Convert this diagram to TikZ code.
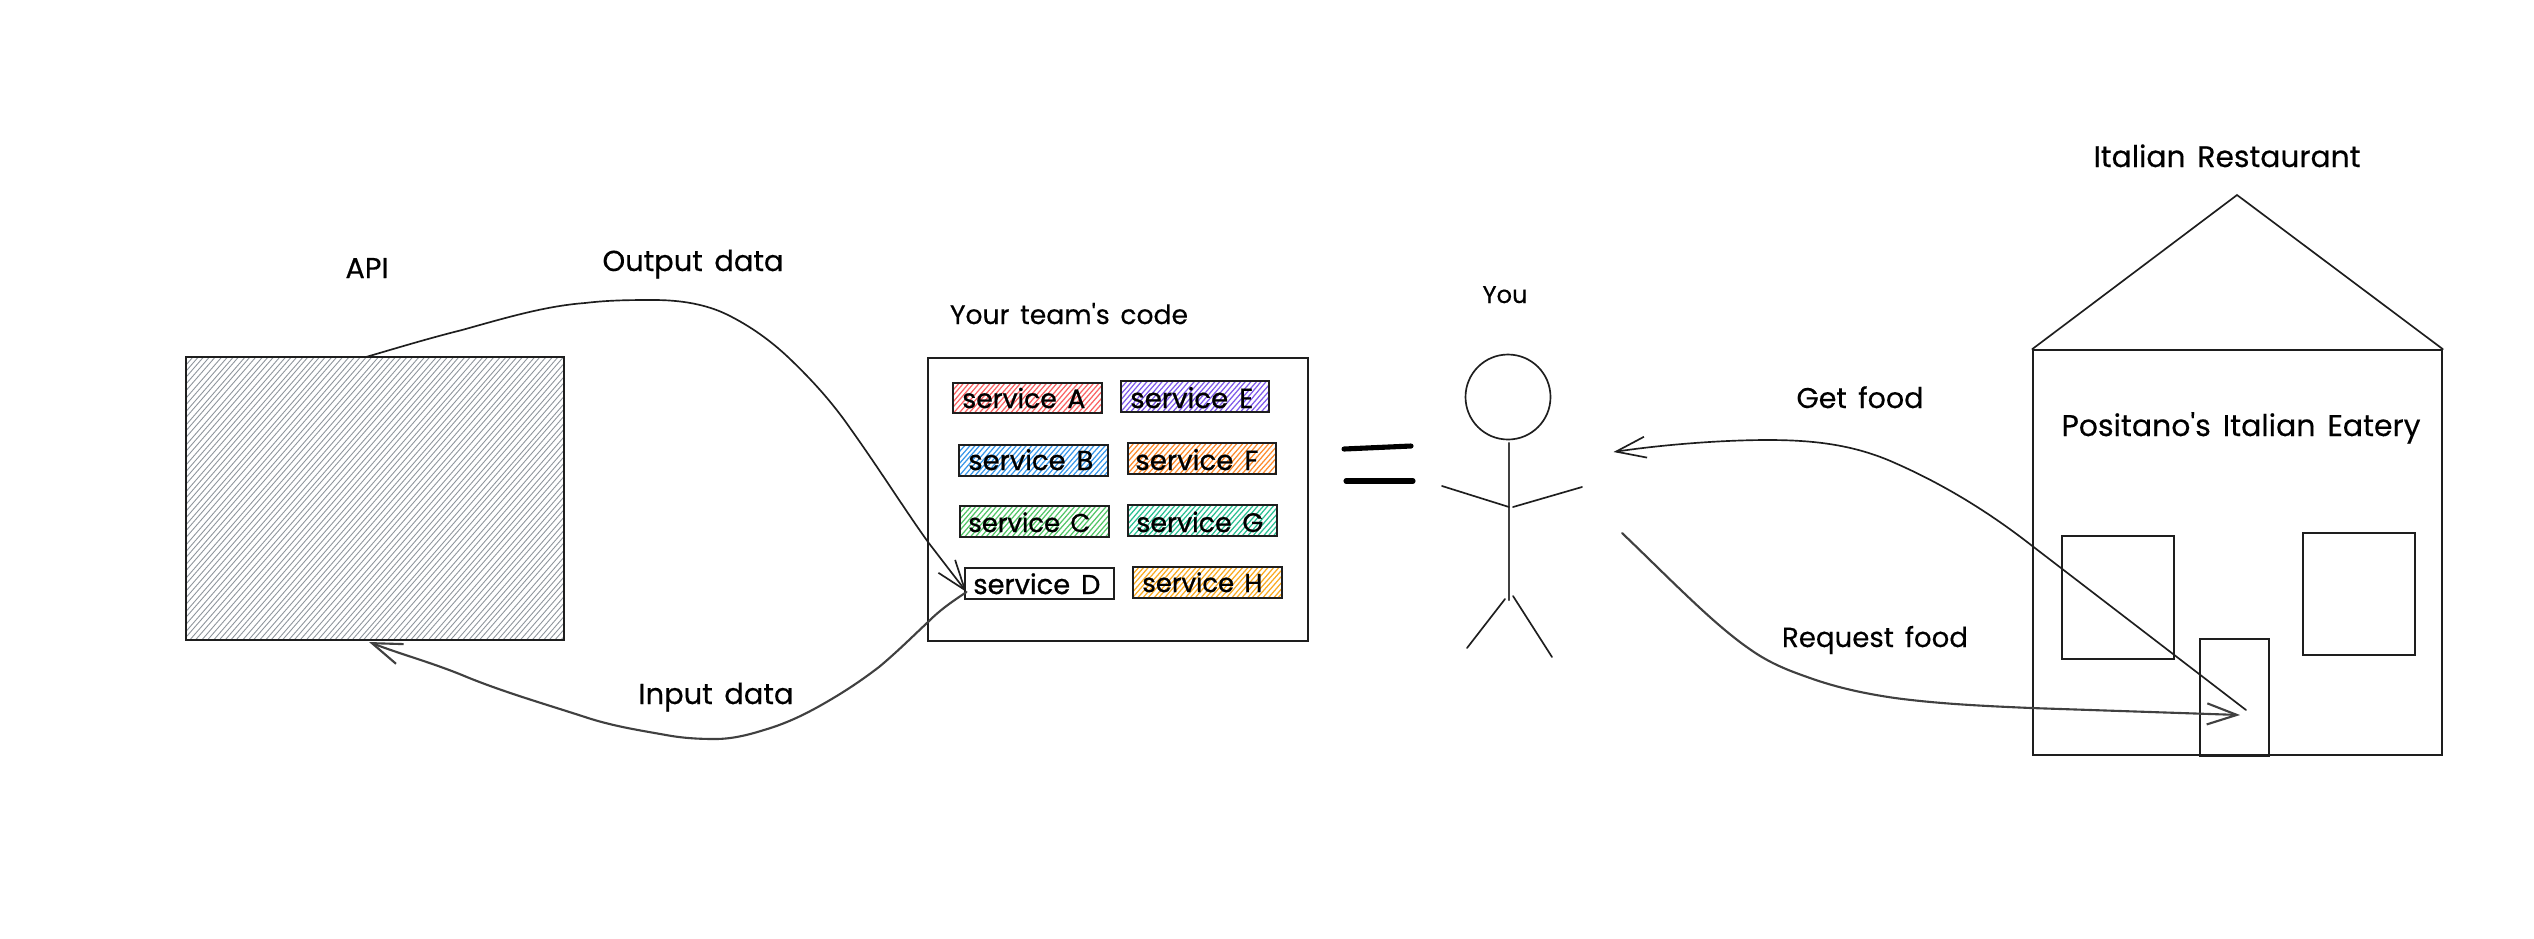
\documentclass[tikz,border=0pt]{standalone}
\usepackage{graphicx}
\usepackage{fontspec}
\defaultfontfeatures[\rmfamily]{}
\setmainfont[WordSpace=1.5,FakeBold=0.35]{Poppins}
\newfontfamily\svcfont[WordSpace=1.5,FakeBold=0.9,Ligatures=Common]{Poppins}
\usetikzlibrary{arrows.meta,fit,calc}
\definecolor{ink}{HTML}{1E1E1E}
\definecolor{hgray}{HTML}{8E959C}
\definecolor{hred}{HTML}{FA5252}
\definecolor{hviolet}{HTML}{7048E8}
\definecolor{hblue}{HTML}{228BE6}
\definecolor{horange}{HTML}{FD7E14}
\definecolor{hgreen}{HTML}{40C057}
\definecolor{hteal}{HTML}{12B886}
\definecolor{hyellow}{HTML}{FAA00A}
\newlength\pxu
\setlength\pxu{0.02cm}
\newcommand\fitw[2]{\resizebox{#1\pxu}{!}{\fontsize{14}{16}\selectfont #2}}
\tikzset{
  sk/.style={draw=ink,line width=0.95pt},
  skbox/.style={sk,inner sep=0pt,rectangle},
  lbl/.style={inner sep=0pt,anchor=base,text=black},
  lblw/.style={inner sep=0pt,anchor=base west,text=black},
  conn/.style={draw=ink,line width=0.95pt,line cap=round},
  connhv/.style={draw=ink!85,line width=1.2pt,line cap=round},
  barb/.style={-{Straight Barb[length=17pt,width=12pt]}},
  barbs/.style={{Straight Barb[length=17pt,width=12pt]}-},
}
% #1 x1, #2 y1, #3 x2, #4 y2, #5 colour, #6 horizontal spacing, #7 line width
\newcommand\hatchbox[7]{%
  \begin{scope}
    \clip (#1,#2) rectangle (#3,#4);
    \pgfmathsetmacro\hdx{(#4-#2)/1.15}
    \pgfmathtruncatemacro\hnn{(#3-#1+\hdx)/#6+1}
    \foreach \k in {0,...,\hnn}{
      \draw[#5,line width=#7]
        ({#1-\hdx+\k*#6+rnd*1.2},#4) -- ({#1+\k*#6+rnd*1.2},#2);
    }
  \end{scope}}
% #1 name, #2 x1, #3 y1, #4 x2, #5 y2, #6 colour, #7 text x, #8 text width, #9 baseline
\newcommand\svcbox[9]{%
  \hatchbox{#2}{#3}{#4}{#5}{#6!90}{5.2}{0.7pt}%
  \node[skbox,fit={(#2,#3) (#4,#5)}] (#1) {};%
  \node[lblw] (#1t) at (#7,#9) {\fitw{#8}{\svcfont service \svcletter}};}
\newcommand\svcletter{}
\begin{document}
\begin{tikzpicture}[x=0.02cm,y=-0.02cm]
\pgfmathsetseed{7}
\useasboundingbox (0,0) rectangle (2534,938);
\fill[white] (0,0) rectangle (2534,938);

% API box
\hatchbox{186}{357}{564}{640}{hgray}{5.8}{0.5pt}
\node[skbox,fit={(186,357) (564,640)}] (api) {};
\node[lbl] (apit) at (367,278) {\fitw{43}{API}};

% Team box
\node[skbox,fit={(928,358) (1308,641)}] (team) {};
\node[lbl] (teamt) at (1069,324) {\fitw{238}{Your team's code}};

\renewcommand\svcletter{A}\svcbox{svcA}{953}{383}{1102}{413}{hred}{962}{123}{408}
\renewcommand\svcletter{E}\svcbox{svcE}{1121}{381}{1269}{412}{hviolet}{1130}{123}{408}
\renewcommand\svcletter{B}\svcbox{svcB}{959}{445}{1108}{476}{hblue}{968}{125}{470}
\renewcommand\svcletter{F}\svcbox{svcF}{1128}{443}{1276}{474}{horange}{1135}{123}{470}
\renewcommand\svcletter{C}\svcbox{svcC}{960}{506}{1109}{537}{hgreen}{968}{122}{532}
\renewcommand\svcletter{G}\svcbox{svcG}{1128}{505}{1277}{536}{hteal}{1136}{127}{532}
\node[skbox,fit={(965,568) (1114,599)}] (svcD) {};
\node[lblw] (svcDt) at (973,594) {\fitw{127}{\svcfont service D}};
\renewcommand\svcletter{H}\svcbox{svcH}{1133}{567}{1282}{598}{hyellow}{1142}{120}{592}

% Output / input arrows
\coordinate (outS) at (366,357);
\coordinate (svcIn) at (966.5,592);
\coordinate (inE) at (369,642);
\draw[conn,barb] (outS) .. controls (400,347) and (430,338) .. (462,330)
  .. controls (505,318) and (545,306) .. (585,303)
  .. controls (610,300) and (632,300) .. (654,300)
  .. controls (680,300) and (706,304) .. (728,315)
  .. controls (750,326) and (770,340) .. (789,358)
  .. controls (812,380) and (832,402) .. (850,428)
  .. controls (880,470) and (905,510) .. (928,542)
  -- (svcIn);
\draw[connhv,barb] (svcIn) .. controls (950,603) and (940,610) .. (928,622)
  .. controls (912,637) and (897,652) .. (879,667)
  .. controls (862,680) and (847,690) .. (830,700)
  .. controls (808,713) and (788,723) .. (764,730)
  .. controls (748,735) and (732,739) .. (715,739)
  .. controls (698,739) and (682,738) .. (666,735)
  .. controls (638,730) and (612,726) .. (585,717)
  .. controls (545,704) and (500,691) .. (462,675)
  .. controls (430,662) and (400,654) .. (inE);
\node[lbl] (outt) at (693,271) {\fitw{181}{Output data}};
\node[lbl] (int) at (716,704) {\fitw{155}{Input data}};

% Equals
\coordinate (eq1a) at (1344,449); \coordinate (eq1b) at (1411,446);
\coordinate (eq2a) at (1346,481); \coordinate (eq2b) at (1413,481);
\draw[draw=black,line width=2.9pt,line cap=round] (eq1a) -- (eq1b);
\draw[draw=black,line width=2.9pt,line cap=round] (eq2a) -- (eq2b);

% Person
\node[lbl] (yout) at (1505,303) {\fitw{45}{You}};
\node[sk,circle,inner sep=0pt,minimum size=85\pxu] (head) at (1508,397) {};
\coordinate (bodyB) at (1509,600);
\coordinate (armJ) at (1509,507);
\draw[connhv] (1509,443) -- (bodyB);
\draw[conn] (1442,486) -- (armJ);
\draw[conn] (1582,487) -- (1513,507);
\draw[conn] (1505,599) -- (1467,648);
\draw[conn] (1513,596) -- (1552,657);

% House
\node[skbox,fit={(2033,350) (2442,755)}] (house) {};
\coordinate (apex) at (2237,195);
\draw[conn,line join=miter] (house.north west) -- (apex) -- (house.north east);
\node[skbox,fit={(2062,536) (2174,659)}] (winL) {};
\node[skbox,fit={(2303,533) (2415,655)}] (winR) {};
\node[skbox,fit={(2200,639) (2269,756)}] (door) {};
\node[lbl] (rest) at (2227,167) {\fitw{267}{Italian Restaurant}};
\node[lbl] (posi) at (2241,436) {\fitw{359}{Positano's Italian Eatery}};

% Food arrows
\coordinate (getA) at (2246,710);
\coordinate (getB) at (1613.5,452);
\coordinate (reqA) at (1622,533);
\coordinate (reqB) at (2240,715);
\draw[conn,barbs] (getB) .. controls (1660,445) and (1720,440) .. (1768,440)
  .. controls (1815,440) and (1855,445) .. (1895,463)
  .. controls (1945,485) and (1990,513) .. (2031,545)
  -- (getA);
\draw[connhv,barb] (reqA) .. controls (1643,553) and (1664,574) .. (1684,593)
  .. controls (1706,614) and (1729,635) .. (1751,650)
  .. controls (1771,664) and (1790,671) .. (1810,678)
  .. controls (1838,688) and (1867,694) .. (1895,698)
  .. controls (1940,704) and (1985,706) .. (2031,708)
  -- (reqB);
\node[lbl] (gett) at (1860,408) {\fitw{127}{Get food}};
\node[lbl] (reqt) at (1875,647) {\fitw{186}{Request food}};
\end{tikzpicture}
\end{document}
